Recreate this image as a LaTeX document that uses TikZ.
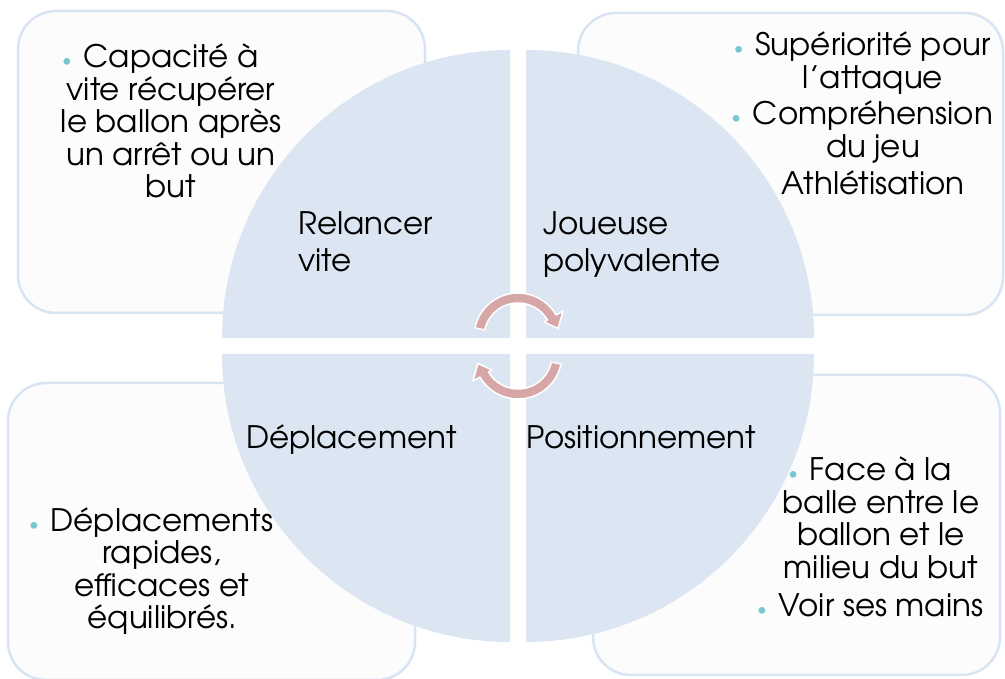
\documentclass[tikz,border=0pt]{standalone}
\usepackage{fontspec}
\setmainfont{TeX Gyre Adventor}
\usepackage{xcolor}
\definecolor{quadc}{RGB}{220,230,242}
\definecolor{boxline}{RGB}{216,228,242}
\definecolor{boxfill}{RGB}{252,252,252}
\definecolor{arrowc}{RGB}{215,166,167}
\definecolor{bulc}{RGB}{120,198,208}
\newcommand{\bul}{\llap{\textcolor{bulc}{\raisebox{1pt}{\scalebox{0.6}{\textbullet}}}\hspace{12pt}}}
\begin{document}
\begin{tikzpicture}[x=1pt,y=1pt,
  boxstyle/.style={draw=boxline, fill=boxfill, line width=2.5pt, rounded corners=38pt},
  quadstyle/.style={fill=quadc},
  arrowstyle/.style={fill=arrowc, draw=white, line width=1.5pt, line join=round},
  txt/.style={font=\fontsize{31}{32.5}\selectfont, inner sep=0pt, align=center, anchor=base},
  lab/.style={font=\fontsize{31}{37}\selectfont, inner sep=0pt, align=left, anchor=base west}]
\useasboundingbox (0,0) rectangle (1005,679);
% boxes
\path[boxstyle] (18,366) rectangle (425,668);
\path[boxstyle] (578,364) rectangle (1003,666);
\path[boxstyle] (8,-1) rectangle (415,296);
\path[boxstyle] (593,4) rectangle (1000,304);
% quadrants
\fill[quadstyle] (510,341) -- ++(180:288pt) arc (180:90:288pt) -- cycle;
\fill[quadstyle] (526,341) -- ++(90:288pt) arc (90:0:288pt) -- cycle;
\fill[quadstyle] (510,325) -- ++(270:288pt) arc (270:180:288pt) -- cycle;
\fill[quadstyle] (526,325) -- ++(0:288pt) arc (0:-90:288pt) -- cycle;
% arrows
\begin{scope}[shift={(518,342)}]
\path[arrowstyle] (168:44pt) arc (168:30:44pt) -- (30:52pt) -- (12:41pt) -- (30:30pt) -- (30:34pt) arc (30:168:34pt) -- cycle;
\end{scope}
\begin{scope}[shift={(518,324)},rotate=180]
\path[arrowstyle] (168:44pt) arc (168:30:44pt) -- (30:52pt) -- (12:41pt) -- (30:30pt) -- (30:34pt) arc (30:168:34pt) -- cycle;
\end{scope}
% box texts (base anchor = baseline of last line)
\node[txt] (tl) at (171,481) {\bul Capacité à\\vite récupérer\\le ballon après\\un arrêt ou un\\but};
\node[txt] (tr) at (873,484) {\bul Supériorité pour\\l’attaque\\[4pt]\bul Compréhension\\du jeu\\[5pt]Athlétisation};
\node[txt] (bl) at (162,50) {\bul Déplacements\\rapides,\\efficaces et\\équilibrés.};
\node[txt] (br) at (881,62) {\bul Face à la\\balle entre le\\ballon et le\\milieu du but\\[6pt]\bul Voir ses mains};
% quadrant labels
\node[lab] (q1) at (298,407) {Relancer\\vite};
\node[lab] (q2) at (543,407) {Joueuse\\polyvalente};
\node[lab] (q3) at (246,230) {Déplacement};
\node[lab] (q4) at (526,230) {Positionnement};
\end{tikzpicture}
\end{document}
